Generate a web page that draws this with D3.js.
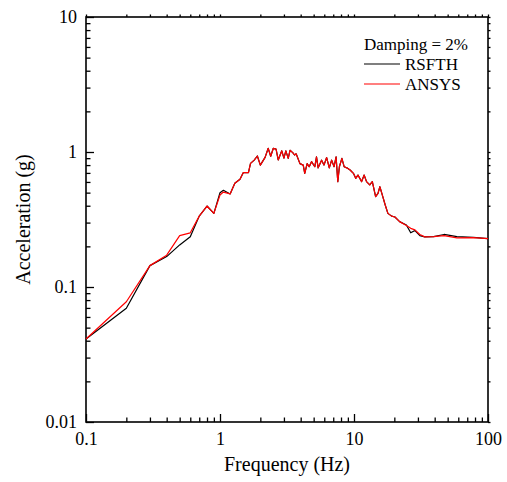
<!DOCTYPE html>
<html>
<head>
<meta charset="utf-8">
<script src="https://cdn.jsdelivr.net/npm/d3@7/dist/d3.min.js"></script>
<style>
  body { margin: 0; background: #fff; }
  svg { display: block; }
  svg text { font-family: "Liberation Serif", "Times New Roman", Times, "DejaVu Serif", serif !important; fill: #000; }
</style>
</head>
<body>
<svg width="507" height="482"></svg>
<script>
// frequency (Hz)
const freq = [0.1, 0.2, 0.3, 0.4, 0.5, 0.6, 0.7, 0.8, 0.9, 1.0, 1.06, 1.19, 1.29, 1.41, 1.49, 1.63, 1.69, 1.8, 1.9, 2.0,
  2.17, 2.29, 2.39, 2.5, 2.62, 2.72, 2.89, 3.0, 3.1, 3.23, 3.33, 3.49, 3.6, 3.7, 3.95, 4.18, 4.29, 4.47, 4.63, 4.82,
  5.1, 5.25, 5.4, 5.73, 5.97, 6.25, 6.54, 6.81, 7.1, 7.35, 7.57, 7.78, 8.12, 8.44, 8.84, 9.35, 9.9, 10.3, 10.7, 11.4,
  11.9, 12.4, 13.1, 13.7, 14.5, 15.1, 15.6, 16.4, 17.1, 17.9, 19.1, 20.2, 21.9, 24.6, 26.5, 28.5, 31, 33.7, 39.3, 47,
  58.6, 77.7, 100];

// acceleration (g), ANSYS
const ansys = [0.0412, 0.0778, 0.144, 0.172, 0.24, 0.252, 0.335, 0.398, 0.351, 0.48, 0.505, 0.489, 0.586, 0.628, 0.703, 0.703, 0.824, 0.87, 0.934, 0.80,
  0.913, 1.065, 0.93, 1.065, 1.05, 0.873, 1.02, 0.90, 1.02, 0.898, 1.03, 0.99, 0.95, 0.97, 0.82, 0.80, 0.695, 0.82, 0.778, 0.848,
  0.778, 0.92, 0.763, 0.87, 0.80, 0.91, 0.763, 0.87, 0.778, 0.92, 0.603, 0.778, 0.898, 0.778, 0.763, 0.736, 0.695, 0.638, 0.675, 0.603,
  0.675, 0.603, 0.57, 0.603, 0.467, 0.494, 0.553, 0.467, 0.405, 0.351, 0.335, 0.33, 0.305, 0.285, 0.272, 0.265, 0.245, 0.235, 0.236, 0.24,
  0.231, 0.232, 0.228];

// acceleration (g), RSFTH
const rsfth = [0.0412, 0.0695, 0.144, 0.168, 0.205, 0.236, 0.335, 0.398, 0.351, 0.50, 0.52, 0.489, 0.586, 0.628, 0.703, 0.703, 0.824, 0.87, 0.934, 0.80,
  0.913, 1.065, 0.93, 1.065, 1.05, 0.873, 1.02, 0.90, 1.02, 0.898, 1.03, 0.99, 0.95, 0.97, 0.82, 0.80, 0.695, 0.82, 0.778, 0.848,
  0.778, 0.92, 0.763, 0.87, 0.80, 0.91, 0.763, 0.87, 0.778, 0.92, 0.603, 0.778, 0.898, 0.778, 0.763, 0.736, 0.695, 0.638, 0.675, 0.603,
  0.675, 0.603, 0.57, 0.603, 0.467, 0.494, 0.553, 0.467, 0.405, 0.351, 0.335, 0.33, 0.305, 0.288, 0.252, 0.262, 0.24, 0.235, 0.236, 0.245,
  0.236, 0.233, 0.228];

const xMajor = [0.1, 1, 10, 100];
const yMajor = [0.01, 0.1, 1, 10];
const seriesNames = ['RSFTH', 'ANSYS'];
const seriesColors = ['#000000', '#ff0000'];

const svg = d3.select('svg');
const width = +svg.attr('width');
const height = +svg.attr('height');
const margin = { top: 17, right: 19, bottom: 60, left: 86 };
const innerWidth = width - margin.left - margin.right;
const innerHeight = height - margin.top - margin.bottom;
const serif = '"Liberation Serif", "Times New Roman", Times, serif';

const xScale = d3.scaleLog().domain([0.1, 100]).range([0, innerWidth]);
const yScale = d3.scaleLog().domain([0.01, 10]).range([innerHeight, 0]);

// minor ticks: 2..9 times each decade
const minors = majors => majors.slice(0, -1).flatMap(m => d3.range(2, 10).map(k => +(m * k).toPrecision(3)));
const xMinor = minors(xMajor);
const yMinor = minors(yMajor);

const g = svg.append('g').attr('transform', `translate(${margin.left},${margin.top})`);

const styleAxis = sel => {
  sel.attr('font-family', serif).attr('font-size', 18);
  sel.selectAll('.domain').remove();
  sel.selectAll('line').attr('stroke', '#000').attr('stroke-width', 1.3);
  sel.selectAll('text').attr('font-size', 18).attr('font-family', serif);
};

// bottom
g.append('g').attr('transform', `translate(0,${innerHeight})`)
  .call(d3.axisBottom(xScale).tickValues(xMajor).tickSize(-8).tickPadding(10).tickFormat(d3.format('~g')))
  .call(styleAxis);
g.append('g').attr('transform', `translate(0,${innerHeight})`)
  .call(d3.axisBottom(xScale).tickValues(xMinor).tickSize(-4.5).tickFormat(''))
  .call(styleAxis);
// left
g.append('g')
  .call(d3.axisLeft(yScale).tickValues(yMajor).tickSize(-8).tickPadding(9).tickFormat(d3.format('~g')))
  .call(styleAxis);
g.append('g')
  .call(d3.axisLeft(yScale).tickValues(yMinor).tickSize(-4.5).tickFormat(''))
  .call(styleAxis);
// top and right: short outward ticks
g.append('g')
  .call(d3.axisTop(xScale).tickValues(xMajor.concat(xMinor)).tickSize(2.5).tickFormat(''))
  .call(styleAxis);
g.append('g').attr('transform', `translate(${innerWidth},0)`)
  .call(d3.axisRight(yScale).tickValues(yMajor.concat(yMinor)).tickSize(2.5).tickFormat(''))
  .call(styleAxis);

// frame
g.append('rect')
  .attr('width', innerWidth).attr('height', innerHeight)
  .attr('fill', 'none').attr('stroke', '#000').attr('stroke-width', 1.6);

const line = d3.line()
  .x((d, i) => xScale(freq[i]))
  .y(d => yScale(d));

[rsfth, ansys].forEach((vals, i) => {
  g.append('path')
    .datum(vals)
    .attr('fill', 'none')
    .attr('stroke', seriesColors[i])
    .attr('stroke-width', 1.2)
    .attr('stroke-linejoin', 'round')
    .attr('d', line);
});

// legend
const legend = g.append('g')
  .attr('transform', 'translate(278,0)')
  .attr('font-family', serif);
legend.append('text')
  .attr('x', 0).attr('y', 33)
  .attr('font-size', 17)
  .text('Damping = 2%');
seriesNames.forEach((name, i) => {
  const y = 47 + i * 20;
  legend.append('line')
    .attr('x1', 0).attr('x2', 36)
    .attr('y1', y).attr('y2', y)
    .attr('stroke', seriesColors[i]).attr('stroke-width', 1.2);
  legend.append('text')
    .attr('x', 41).attr('y', y + 6)
    .attr('font-size', 17)
    .text(name);
});

// axis titles
g.append('text')
  .attr('x', innerWidth / 2).attr('y', innerHeight + 49)
  .attr('text-anchor', 'middle')
  .attr('font-family', serif)
  .attr('font-size', 20)
  .text('Frequency (Hz)');

g.append('text')
  .attr('transform', `translate(${-56},${innerHeight / 2}) rotate(-90)`)
  .attr('text-anchor', 'middle')
  .attr('font-family', serif)
  .attr('font-size', 20)
  .text('Acceleration (g)');
</script>
</body>
</html>
